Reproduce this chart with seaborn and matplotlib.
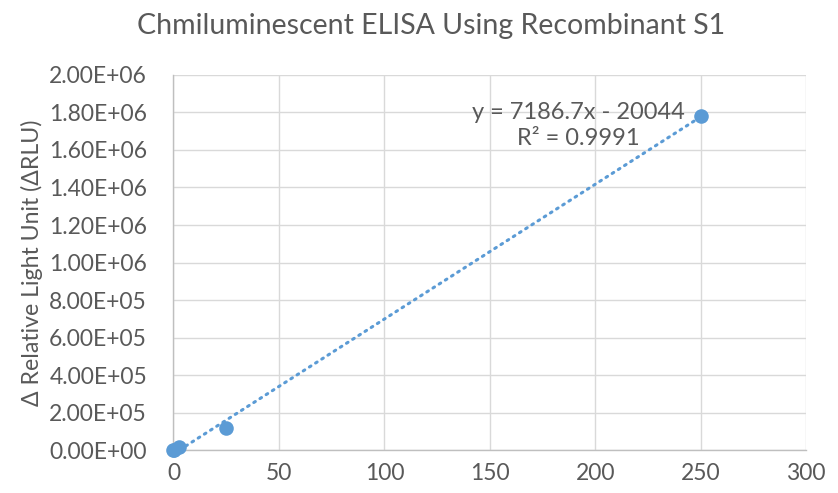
import numpy as np
import pandas as pd
import matplotlib
matplotlib.use("Agg")
import matplotlib.pyplot as plt
import seaborn as sns
from matplotlib.ticker import FuncFormatter

# concentration vs delta RLU
conc = [0, 0.25, 2.5, 25, 250]
rlu = [0, 3000, 15000, 120000, 1780000]

# trendline as reported on the chart
slope = 7186.7
intercept = -20044
r2_text = "0.9991"

sns.set_style("whitegrid")
plt.rcParams['font.family'] = ['Lato', 'DejaVu Sans']
text_color = "#595959"
blue = "#5B9BD5"

data = pd.DataFrame({"conc": conc, "rlu": rlu})

fig, ax = plt.subplots(figsize=(8.38, 4.93), dpi=100)
fig.subplots_adjust(left=0.207, right=0.962, top=0.848, bottom=0.087)

# dotted linear trendline over the data range
xs = np.linspace(min(conc), max(conc), 200)
trend = pd.DataFrame({"x": xs, "y": slope * xs + intercept})
sns.lineplot(data=trend, x="x", y="y", ax=ax, color=blue, lw=2.2,
             linestyle=(0, (0.6, 1.8)), dash_capstyle="round", zorder=2)

sns.scatterplot(data=data, x="conc", y="rlu", ax=ax, color=blue, s=110,
                edgecolor=blue, linewidth=0, zorder=3, clip_on=False)

ax.set_xlim(0, 300)
ax.set_ylim(0, 2000000)
ax.set_xticks(range(0, 301, 50))
ax.set_yticks(np.arange(0, 2000001, 200000))
ax.yaxis.set_major_formatter(FuncFormatter(lambda v, p: f"{v:.2E}"))

ax.grid(True, color="#d9d9d9", lw=1)
for side in ["top", "right"]:
    ax.spines[side].set_visible(False)
for side in ["left", "bottom"]:
    ax.spines[side].set_color("#bfbfbf")
    ax.spines[side].set_linewidth(1)

ax.tick_params(axis="both", labelsize=16.5, colors=text_color, length=0)
ax.tick_params(axis="y", pad=19)
ax.tick_params(axis="x", pad=9)
ax.set_xlabel("")
ax.set_ylabel("Δ Relative Light Unit (ΔRLU)", fontsize=16.7, color=text_color, labelpad=4)
fig.text(0.514, 0.948, "Chmiluminescent ELISA Using Recombinant S1", fontsize=20.5,
         color=text_color, ha="center", va="center")

ax.text(192, 1855000, f"y = {slope}x - {abs(intercept)}\nR² = {r2_text}",
        fontsize=17, color=text_color, ha="center", va="top", linespacing=1.3)

fig.savefig("out.png", dpi=100)
